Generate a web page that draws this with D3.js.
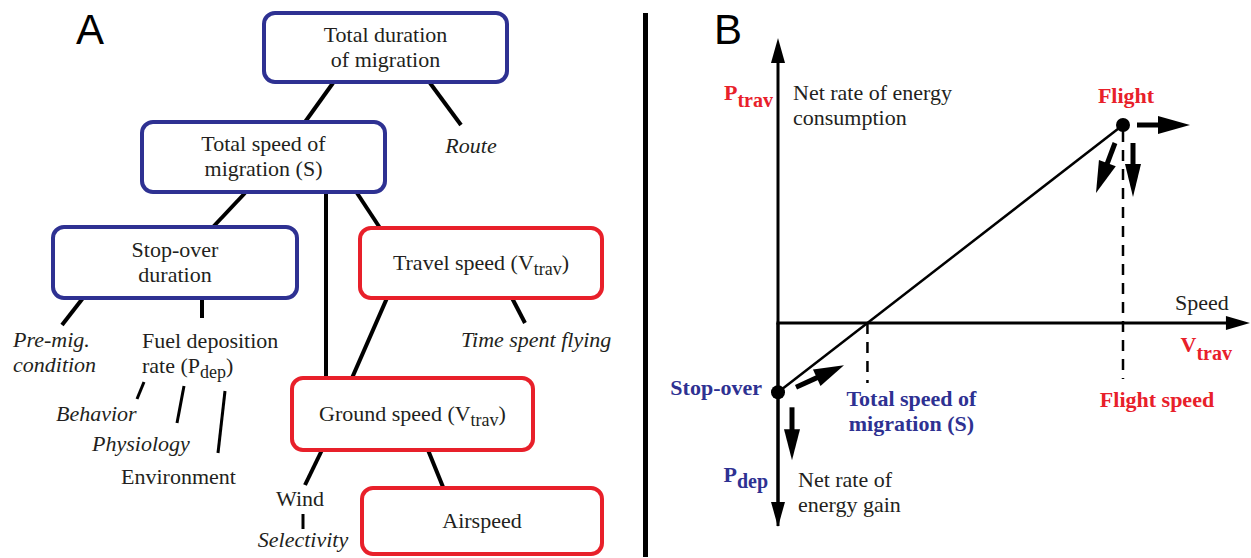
<!DOCTYPE html>
<html>
<head>
<meta charset="utf-8">
<script src="https://cdn.jsdelivr.net/npm/d3@7"></script>
<style>
  body { margin: 0; background: #fff; }
  svg { display: block; }
</style>
</head>
<body>
<div id="fig"></div>
<script>
// ---- data: panel A (hierarchy of factors) ----
var boxIds = ["total", "speed", "stopover", "travel", "ground", "air"];
var boxText = [
  ["Total duration", "of migration"],
  ["Total speed of", "migration (S)"],
  ["Stop-over", "duration"],
  ["Travel speed (V_{trav})"],
  ["Ground speed (V_{trav})"],
  ["Airspeed"]
];
var boxGroup = ["duration", "duration", "duration", "travel", "travel", "travel"];

var factorIds = ["route", "premig", "fuel", "behavior", "physiology", "environment", "flying", "wind", "selectivity"];
var factorText = [
  ["Route"],
  ["Pre-mig.", "condition"],
  ["Fuel deposition", "rate (P_{dep})"],
  ["Behavior"],
  ["Physiology"],
  ["Environment"],
  ["Time spent flying"],
  ["Wind"],
  ["Selectivity"]
];
var factorItalic = [true, true, false, true, true, false, true, false, true];

var links = [
  ["total", "speed"], ["total", "route"], ["speed", "stopover"], ["speed", "ground"],
  ["speed", "travel"], ["stopover", "premig"], ["stopover", "fuel"], ["travel", "ground"],
  ["travel", "flying"], ["ground", "wind"], ["ground", "air"], ["wind", "selectivity"],
  ["fuel", "behavior"], ["fuel", "physiology"], ["fuel", "environment"]
];

// ---- data: panel B (energy rate vs speed) ----
var stateNames = ["Stop-over", "Flight"];
var stateSpeed = [0, 1];      // relative speed
var statePower = [-0.35, 1];  // net energy rate (negative = gain)
var axisLabelsB = ["Net rate of energy|consumption", "Net rate of|energy gain", "Speed"];

// ---- layout (page pixels) ----
var svgWidth = 1251, svgHeight = 558;
var blue = "#2e3192", red = "#e8202a", ink = "#231f20";

var boxRect = {
  total: [264, 13, 507, 82], speed: [142, 122, 385, 192], stopover: [53, 227, 297, 298],
  travel: [360, 228, 602, 298], ground: [292, 378, 533, 450], air: [362, 488, 602, 554]
};
var factorPos = {
  route: [471, 153, "middle"], premig: [13, 347, "start"], fuel: [142, 348, "start"],
  behavior: [56, 421, "start"], physiology: [92, 451, "start"], environment: [121, 484, "start"],
  flying: [461, 347, "start"], wind: [300, 506, "middle"], selectivity: [303, 547, "middle"]
};
var linkPos = [
  [333, 83, 305, 122], [430, 83, 461, 125], [245, 193, 213, 227], [326, 192, 326, 378],
  [357, 193, 380, 228], [83, 298, 62, 325], [202, 298, 202, 318], [387, 298, 352, 378],
  [512, 298, 525, 323], [322, 450, 305, 485], [428, 450, 443, 487], [303, 514, 303, 529],
  [144, 382, 137, 399], [184, 386, 177, 423], [225, 391, 218, 453]
];

var svg = d3.select("#fig").append("svg")
  .attr("width", svgWidth)
  .attr("height", svgHeight);

// write text with _{sub} parts as lowered small tspans
function richText(sel, str, subSize, subDy) {
  var parts = str.split(/_\{([^}]*)\}/);
  var down = false;
  parts.forEach(function(p, i) {
    if (p === "") return;
    var t = sel.append("tspan").text(p);
    if (i % 2 === 1) {
      t.attr("font-size", subSize).attr("dy", subDy);
      down = true;
    } else if (down) {
      t.attr("dy", -subDy);
      down = false;
    }
  });
}

function panelLetter(x, label) {
  svg.append("text")
    .attr("class", "letter")
    .attr("x", x).attr("y", 44)
    .attr("font-size", 42)
    .attr("fill", "#000")
    .text(label);
}

// ---------------- panel A ----------------
var gA = svg.append("g");
panelLetter(76, "A");

// connector lines
gA.selectAll("line.link").data(links).enter()
  .append("line")
  .attr("class", "link")
  .attr("x1", (d, i) => linkPos[i][0]).attr("y1", (d, i) => linkPos[i][1])
  .attr("x2", (d, i) => linkPos[i][2]).attr("y2", (d, i) => linkPos[i][3])
  .attr("stroke", "#000")
  .attr("stroke-width", (d, i) => i >= 11 ? 3 : 4);

// boxes
var boxes = gA.selectAll("g.box").data(boxIds).enter()
  .append("g").attr("class", "box");

boxes.append("rect")
  .attr("x", d => boxRect[d][0]).attr("y", d => boxRect[d][1])
  .attr("width", d => boxRect[d][2] - boxRect[d][0])
  .attr("height", d => boxRect[d][3] - boxRect[d][1])
  .attr("rx", 11)
  .attr("fill", "#fff")
  .attr("stroke", (d, i) => boxGroup[i] === "duration" ? blue : red)
  .attr("stroke-width", 4);

boxes.each(function(d, i) {
  var r = boxRect[d];
  var cx = (r[0] + r[2]) / 2, cy = (r[1] + r[3]) / 2;
  var lines = boxText[i];
  lines.forEach(function(line, j) {
    var t = d3.select(this).append("text")
      .attr("x", cx)
      .attr("y", cy + (j - (lines.length - 1) / 2) * 25 + 6.5)
      .attr("text-anchor", "middle");
    richText(t, line, 18, 5);
  }, this);
});

// factor labels
factorIds.forEach(function(id, i) {
  var p = factorPos[id];
  factorText[i].forEach(function(line, j) {
    var t = gA.append("text")
      .attr("x", p[0]).attr("y", p[1] + j * 25)
      .attr("text-anchor", p[2])
      .attr("font-style", factorItalic[i] ? "italic" : "normal");
    richText(t, line, 18, 5);
  });
});

// divider
svg.append("line")
  .attr("x1", 645.5).attr("x2", 645.5).attr("y1", 13).attr("y2", 557)
  .attr("stroke", "#000").attr("stroke-width", 5);

// ---------------- panel B ----------------
var gB = svg.append("g");
panelLetter(714, "B");

var xB = d3.scaleLinear().domain([0, 1]).range([778, 1123]);
var yB = d3.scaleLinear().domain([0, 1]).range([323, 125]);

function arrow(g, x1, y1, x2, y2, w, headLen, half) {
  var dx = x2 - x1, dy = y2 - y1, len = Math.sqrt(dx * dx + dy * dy);
  var ux = dx / len, uy = dy / len;
  var bx = x2 - ux * headLen, by = y2 - uy * headLen;
  g.append("line")
    .attr("x1", x1).attr("y1", y1).attr("x2", bx + ux).attr("y2", by + uy)
    .attr("stroke", "#000").attr("stroke-width", w);
  g.append("path")
    .attr("d", d3.line()([[x2, y2], [bx - uy * half, by + ux * half], [bx + uy * half, by - ux * half]]) + "Z")
    .attr("fill", "#000");
}

// axes (no ticks)
arrow(gB, xB(0), yB(-1.03) - 1, xB(0), yB(1.44), 3, 25, 7);
arrow(gB, xB(0), yB(0), xB(0), yB(-1.03), 3, 25, 7);
arrow(gB, xB(0) - 1.5, yB(0), xB(1.368), yB(0), 3, 24, 7);

// total speed of migration: where the line crosses zero
var sSpeed = stateSpeed[0] + (0 - statePower[0]) / (statePower[1] - statePower[0]) * (stateSpeed[1] - stateSpeed[0]);

// dashed drop lines
gB.append("line")
  .attr("x1", xB(sSpeed)).attr("x2", xB(sSpeed))
  .attr("y1", yB(0)).attr("y2", yB(0) + 60)
  .attr("stroke", "#000").attr("stroke-width", 2.5).attr("stroke-dasharray", "11,8");
gB.append("line")
  .attr("x1", xB(stateSpeed[1])).attr("x2", xB(stateSpeed[1]))
  .attr("y1", yB(statePower[1]) + 6).attr("y2", yB(0) + 56)
  .attr("stroke", "#000").attr("stroke-width", 2.5).attr("stroke-dasharray", "11,8");

// line between states
gB.append("path")
  .datum(stateSpeed.map((s, i) => [s, statePower[i]]))
  .attr("d", d3.line().x(d => xB(d[0])).y(d => yB(d[1])))
  .attr("stroke", "#000").attr("stroke-width", 2.5).attr("fill", "none");

gB.selectAll("circle.state").data(stateNames).enter()
  .append("circle")
  .attr("class", "state")
  .attr("cx", (d, i) => xB(stateSpeed[i]))
  .attr("cy", (d, i) => yB(statePower[i]))
  .attr("r", 7)
  .attr("fill", "#000");

// movement arrows
var fx = xB(stateSpeed[1]), fy = yB(statePower[1]);
arrow(gB, fx + 14, fy, fx + 67, fy, 5, 32, 9);
arrow(gB, fx - 8, fy + 18, fx - 27, fy + 68, 5, 32, 9);
arrow(gB, fx + 10, fy + 18, fx + 10, fy + 72, 5, 33, 8);
var sx = xB(stateSpeed[0]), sy = yB(statePower[0]);
arrow(gB, sx + 18, sy - 5, sx + 66, sy - 27, 5, 30, 9);
arrow(gB, sx + 14, sy + 15, sx + 14, sy + 68, 5, 31, 8);

function boldText(x, y, anchor, color, str, subDy) {
  var t = gB.append("text")
    .attr("x", x).attr("y", y)
    .attr("text-anchor", anchor)
    .attr("font-weight", "bold")
    .attr("fill", color);
  richText(t, str, 20, subDy || 0);
  return t;
}

// state labels
boldText(sx - 16, sy + 3, "end", blue, stateNames[0]);
boldText(fx + 3, fy - 22, "middle", red, stateNames[1]);

// axis symbols
boldText(xB(0) - 5, 100, "end", red, "P_{trav}", 7);
boldText(xB(0) - 10, 482, "end", blue, "P_{dep}", 6);
boldText(1232, 352, "end", red, "V_{trav}", 8);

var descPos = [[793, 100], [798, 487], [1175, 310]];
axisLabelsB.forEach(function(lbl, i) {
  lbl.split("|").forEach(function(line, j) {
    gB.append("text")
      .attr("x", descPos[i][0]).attr("y", descPos[i][1] + j * 25)
      .text(line);
  });
});

// speed labels
["Total speed of", "migration (S)"].forEach(function(line, j) {
  boldText(xB(sSpeed) + 44, 406 + j * 25, "middle", blue, line);
});
boldText(xB(stateSpeed[1]) + 34, 407, "middle", red, "Flight speed");

// fonts: serif for all labels, sans for the panel letters
svg.selectAll("text").each(function() {
  var t = d3.select(this);
  if (t.classed("letter")) {
    t.attr("font-family", "Liberation Sans");
  } else {
    t.attr("font-family", "Liberation Serif");
    if (!t.attr("font-size")) t.attr("font-size", 22);
    if (!t.attr("fill")) t.attr("fill", ink);
  }
});
</script>
</body>
</html>
